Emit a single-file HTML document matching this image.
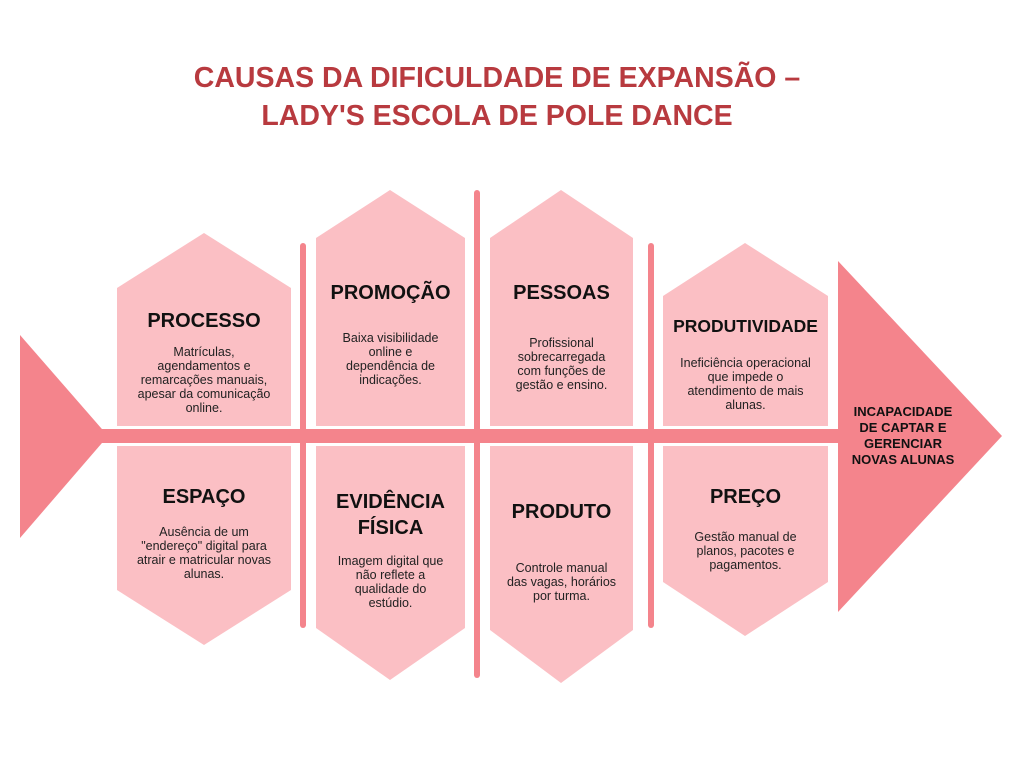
<!DOCTYPE html>
<html><head><meta charset="utf-8"><style>
body{margin:0;width:1024px;height:768px;background:#fff;position:relative;overflow:hidden;font-family:"Liberation Sans",sans-serif}
.t{position:absolute;left:-15px;width:1024px;text-align:center;color:#b83a3f;font-weight:bold;font-size:28.5px;letter-spacing:0}
.h{position:absolute;text-align:center;font-weight:bold;color:#111;font-size:20px;line-height:24px}
.b{position:absolute;text-align:center;color:#222;font-size:12.5px;line-height:14px}
</style></head><body>
<svg width="1024" height="768" style="position:absolute;left:0;top:0">
<g fill="#fbbfc4">
<polygon points="117,288 204,233 291,288 291,426 117,426"/>
<polygon points="316,238 390,190 465,238 465,426 316,426"/>
<polygon points="490,238 561,190 633,238 633,426 490,426"/>
<polygon points="663,296 745,243 828,296 828,426 663,426"/>
<polygon points="117,446 291,446 291,590 204,645 117,590"/>
<polygon points="316,446 465,446 465,628 390,680 316,628"/>
<polygon points="490,446 633,446 633,630 561,683 490,630"/>
<polygon points="663,446 828,446 828,582 745,636 663,582"/>
</g>
<g fill="#f4848c">
<polygon points="20,335 108,436 20,538"/>
<rect x="100" y="429" width="745" height="14"/>
<polygon points="838,261 1002,436 838,612"/>
<rect x="300" y="243" width="6" height="385" rx="3"/>
<rect x="474" y="190" width="6" height="488" rx="3"/>
<rect x="648" y="243" width="6" height="385" rx="3"/>
</g>
</svg>
<div class="t" style="top:62px">CAUSAS DA DIFICULDADE DE EXPANSÃO –</div>
<div class="t" style="top:100px">LADY'S ESCOLA DE POLE DANCE</div>

<div class="h" style="left:117px;width:174px;top:309px">PROCESSO</div>
<div class="b" style="left:117px;width:174px;top:345px">Matrículas,<br>agendamentos e<br>remarcações manuais,<br>apesar da comunicação<br>online.</div>
<div class="h" style="left:316px;width:149px;top:281px">PROMOÇÃO</div>
<div class="b" style="left:316px;width:149px;top:331px">Baixa visibilidade<br>online e<br>dependência de<br>indicações.</div>
<div class="h" style="left:490px;width:143px;top:281px">PESSOAS</div>
<div class="b" style="left:490px;width:143px;top:336px">Profissional<br>sobrecarregada<br>com funções de<br>gestão e ensino.</div>
<div class="h" style="left:658px;width:175px;top:314px;font-size:17.5px">PRODUTIVIDADE</div>
<div class="b" style="left:663px;width:165px;top:356px">Ineficiência operacional<br>que impede o<br>atendimento de mais<br>alunas.</div>

<div class="h" style="left:117px;width:174px;top:485px">ESPAÇO</div>
<div class="b" style="left:117px;width:174px;top:525px">Ausência de um<br>"endereço" digital para<br>atrair e matricular novas<br>alunas.</div>
<div class="h" style="left:316px;width:149px;top:489px;line-height:26px">EVIDÊNCIA<br>FÍSICA</div>
<div class="b" style="left:316px;width:149px;top:554px">Imagem digital que<br>não reflete a<br>qualidade do<br>estúdio.</div>
<div class="h" style="left:490px;width:143px;top:500px">PRODUTO</div>
<div class="b" style="left:490px;width:143px;top:561px">Controle manual<br>das vagas, horários<br>por turma.</div>
<div class="h" style="left:663px;width:165px;top:485px">PREÇO</div>
<div class="b" style="left:663px;width:165px;top:530px">Gestão manual de<br>planos, pacotes e<br>pagamentos.</div>

<div class="h" style="left:840px;width:126px;top:404px;font-size:13px;line-height:16px">INCAPACIDADE<br>DE CAPTAR E<br>GERENCIAR<br>NOVAS ALUNAS</div>
</body></html>
